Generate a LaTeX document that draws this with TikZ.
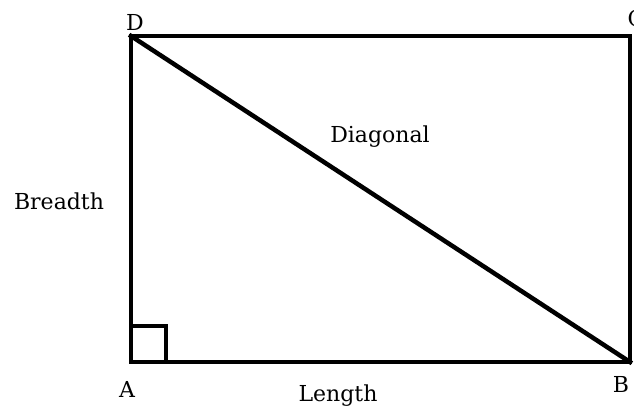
\documentclass[tikz,border=0pt]{standalone}
\usepackage{fontspec}
\setmainfont{DejaVu Serif}
\begin{document}
\begin{tikzpicture}[x=1pt,y=-1pt,
  edge/.style={line width=4.5pt,line join=miter,line cap=rect},
  lbl/.style={font=\fontsize{22}{26}\selectfont,inner sep=0pt,anchor=center}]
\useasboundingbox (0,0) rectangle (634,408);
\coordinate (A) at (131,362);
\coordinate (B) at (630,362);
\coordinate (C) at (630,36);
\coordinate (D) at (131,36);
\draw[edge] (A) -- (B) -- (C) -- (D) -- cycle;
\draw[edge] (D) -- (B);
\draw[edge] ([yshift=36pt]A) -| ([xshift=35pt]A);
\node[lbl] (lD) at (135,22) {D};
\node[lbl] (lC) at (636,18) {C};
\node[lbl] (lA) at (127,389) {A};
\node[lbl] (lB) at (621,384) {B};
\node[lbl] (lbr) at (59,201) {Breadth};
\node[lbl] (ldg) at (380,137) {Diagonal};
\node[lbl] (lln) at (338,396) {Length};
\end{tikzpicture}
\end{document}
